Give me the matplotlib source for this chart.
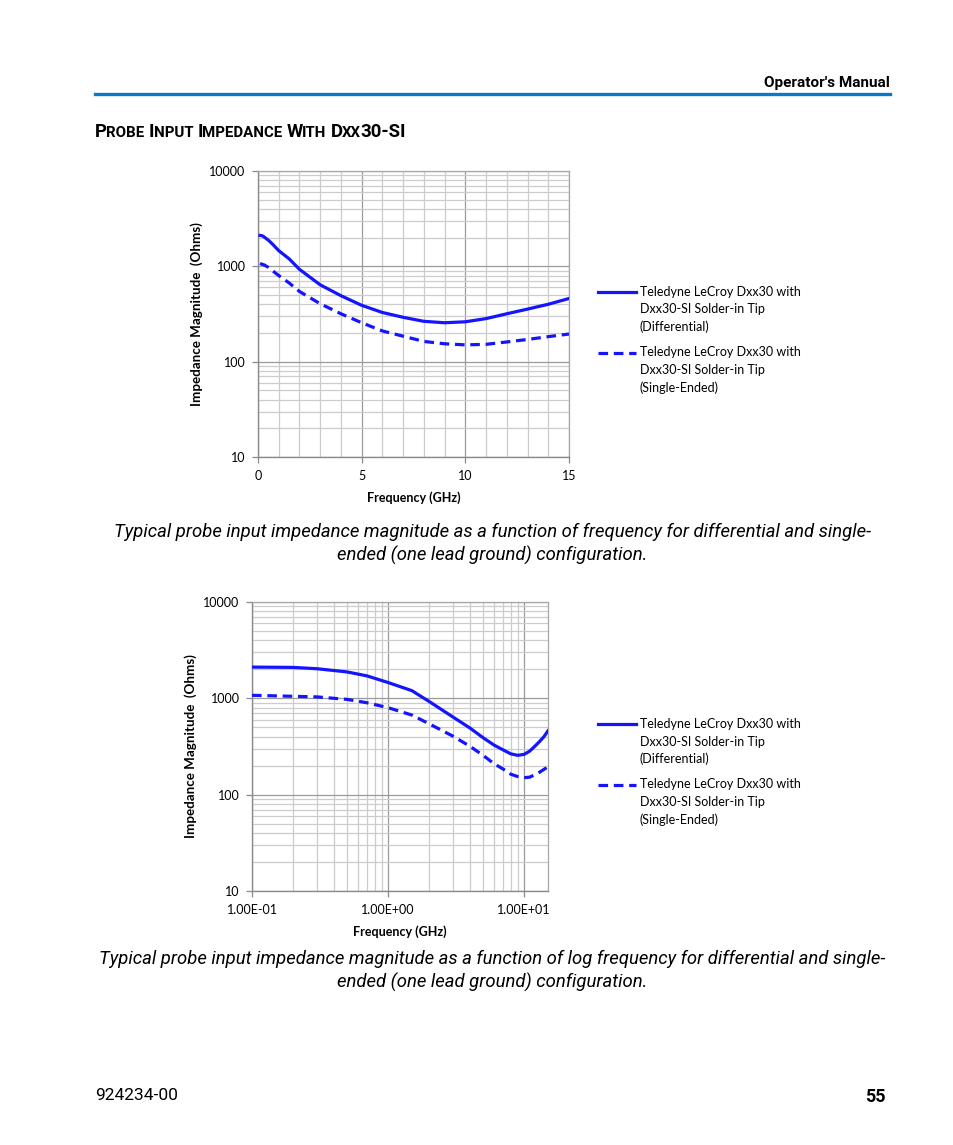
import matplotlib.pyplot as plt
from matplotlib.lines import Line2D
from matplotlib.ticker import LogLocator, MultipleLocator, FixedLocator, FuncFormatter, NullFormatter

W, H = 954, 1145

# impedance curves
freq_ghz = [0.1, 0.2, 0.3, 0.5, 0.7, 1.0, 1.5, 2.0, 3.0, 4.0, 5.0, 6.0, 7.0,
            8.0, 9.0, 10.0, 11.0, 12.0, 13.0, 14.0, 15.0]
z_differential = [2110, 2095, 2030, 1880, 1710, 1460, 1200, 930, 640, 492, 390,
                  328, 292, 265, 256, 262, 283, 318, 356, 400, 460]
z_single_ended = [1075, 1050, 1035, 975, 900, 800, 670, 545, 405, 318, 256,
                  210, 185, 163, 154, 150, 152, 161, 171, 183, 195]

lin_xticks = [0, 5, 10, 15]
log_xticks = [0.1, 1, 10]
y_ticks = [10, 100, 1000, 10000]

legend_head = ["Teledyne LeCroy Dxx30 with", "Dxx30-SI Solder-in Tip"]
legend_modes = ["(Differential)", "(Single-Ended)"]

caption_lin = ["Typical probe input impedance magnitude as a function of frequency for differential and single-",
               "ended (one lead ground) configuration."]
caption_log = ["Typical probe input impedance magnitude as a function of log frequency for differential and single-",
               "ended (one lead ground) configuration."]

BLUE = "#1414ff"
CHART_FONT = "Lato"
PAGE_FONT = "Roboto"

fig = plt.figure(figsize=(W / 100, H / 100), dpi=100)


def fx(x):
    return x / W


def fy(y):
    return 1 - y / H


def chart(left, top, right, bottom, log_x, ylabel_x, legend_y):
    ax = fig.add_axes([fx(left), fy(bottom), (right - left) / W, (bottom - top) / H])
    ax.plot(freq_ghz, z_differential, color=BLUE, lw=2.3, zorder=3)
    ax.plot(freq_ghz, z_single_ended, color=BLUE, lw=2.3, dashes=(3, 1.8), zorder=3)

    ax.set_yscale("log")
    ax.set_ylim(10, 10000)
    ax.yaxis.set_major_locator(FixedLocator(y_ticks))
    ax.yaxis.set_major_formatter(FuncFormatter(lambda v, p: f"{v:.0f}"))
    ax.yaxis.set_minor_locator(LogLocator(base=10, subs=range(2, 10)))
    ax.yaxis.set_minor_formatter(NullFormatter())

    if log_x:
        ax.set_xscale("log")
        ax.set_xlim(0.1, 15)
        ax.xaxis.set_major_locator(FixedLocator(log_xticks))
        ax.xaxis.set_major_formatter(FuncFormatter(lambda v, p: f"{v:.2E}"))
        ax.xaxis.set_minor_locator(LogLocator(base=10, subs=range(2, 10)))
        ax.xaxis.set_minor_formatter(NullFormatter())
    else:
        ax.set_xlim(0, 15)
        ax.xaxis.set_major_locator(FixedLocator(lin_xticks))
        ax.xaxis.set_minor_locator(MultipleLocator(1))

    ax.set_axisbelow(True)
    ax.grid(which="major", color="#9a9a9a", lw=0.9)
    ax.grid(which="minor", color="#cccccc", lw=0.9)
    ax.tick_params(which="major", length=4, width=0.9, color="#8a8a8a",
                   labelsize=9, pad=5, labelfontfamily=CHART_FONT)
    ax.tick_params(which="minor", length=0)
    for s in ["left", "bottom"]:
        ax.spines[s].set_color("#8a8a8a")
        ax.spines[s].set_linewidth(1.0)
    for s in ["top", "right"]:
        ax.spines[s].set_color("#a6a6a6")
        ax.spines[s].set_linewidth(0.9)

    ax.set_xlabel("Frequency (GHz)", fontsize=9, fontweight="bold", family=CHART_FONT)
    ax.xaxis.label.set_va("center")
    ax.xaxis.set_label_coords(0.5, -41 / (bottom - top))
    ax.set_ylabel("Impedance Magnitude  (Ohms)", fontsize=9.6, fontweight="bold", family=CHART_FONT)
    ax.yaxis.label.set_va("center")
    ax.yaxis.set_label_coords((ylabel_x - left) / (right - left), 0.5)

    # legend, drawn by hand so the sample sits on the first text line
    for i, style in enumerate([{}, {"dashes": (3, 1.8)}]):
        y0 = legend_y + i * 60.5
        fig.add_artist(Line2D([fx(598), fx(636)], [fy(y0), fy(y0)], color=BLUE,
                              lw=2.3, **style))
        lines = legend_head + [legend_modes[i]]
        for k, txt in enumerate(lines):
            fig.text(fx(640), fy(y0 + k * 17.5), txt, fontsize=9, family=CHART_FONT,
                     va="center", ha="left")
    return ax


chart(258, 171, 569, 457, False, 197, 292)
chart(252, 602, 548, 891, True, 191, 724)

# page header
fig.text(fx(890), fy(87), "Operator's Manual", fontsize=11, fontweight="bold",
         family=PAGE_FONT, ha="right", va="baseline")
fig.add_artist(Line2D([fx(95), fx(890)], [fy(94), fy(94)], color="#0a78c8", lw=2.4))

# small caps section title
renderer = fig.canvas.get_renderer()
x = 95
big, small = 13.4, 10.8
for word in "Probe Input Impedance With Dxx30-SI".split():
    runs = []
    for ch in word:
        size = small if ch.islower() else big
        if runs and runs[-1][1] == size:
            runs[-1][0] += ch.upper()
        else:
            runs.append([ch.upper(), size])
    for txt, size in runs:
        t = fig.text(fx(x), fy(137), txt, fontsize=size, fontweight="bold",
                     family=PAGE_FONT, ha="left", va="baseline")
        x += t.get_window_extent(renderer).width - 0.5
    x += 4.5

for lines, y0 in [(caption_lin, 537), (caption_log, 964)]:
    for k, txt in enumerate(lines):
        fig.text(fx(492.5), fy(y0 + k * 24), txt, fontsize=13.3, style="italic",
                 family=PAGE_FONT, ha="center", va="baseline")

fig.text(fx(95), fy(1100), "924234-00", fontsize=12.5, family=PAGE_FONT,
         ha="left", va="baseline")
fig.text(fx(886), fy(1102), "55", fontsize=13, fontweight="bold", family=PAGE_FONT,
         ha="right", va="baseline")

fig.savefig("out.png", dpi=100, facecolor="white")
